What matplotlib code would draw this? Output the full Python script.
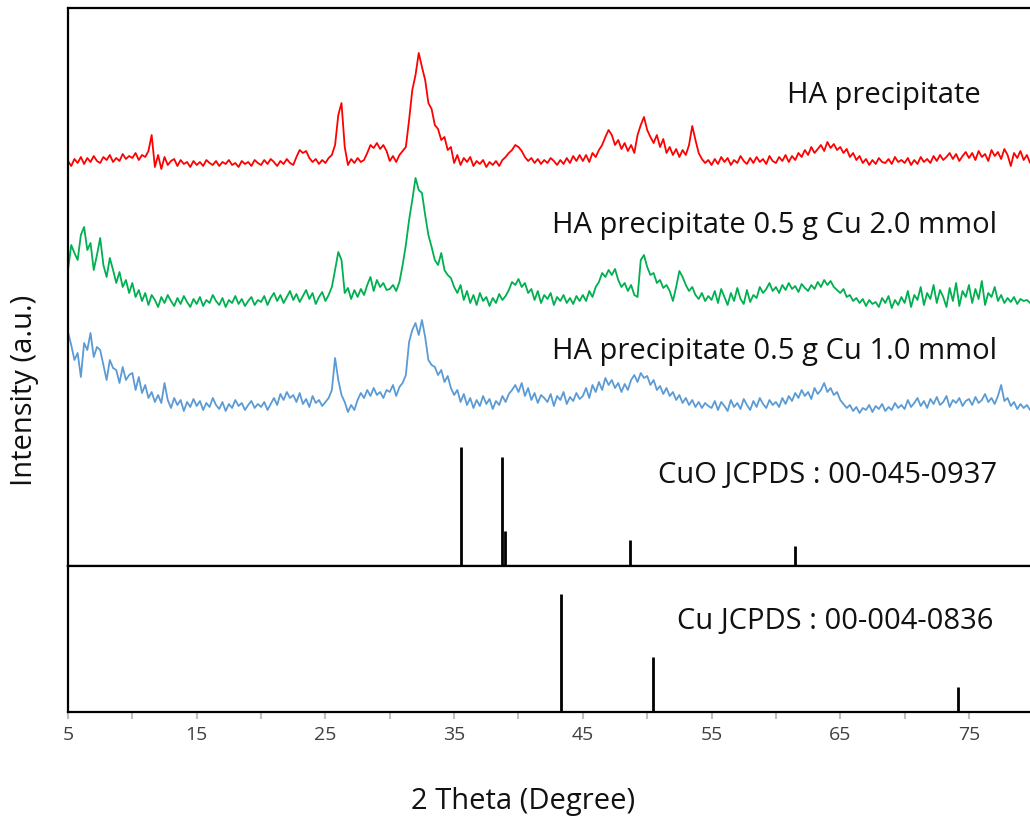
import numpy as np
import matplotlib
matplotlib.use("Agg")
import matplotlib.pyplot as plt

plt.rcParams['font.family'] = ['Open Sans', 'DejaVu Sans']

# 2-theta grid of the measured patterns (degrees)
two_theta = np.arange(5.0, 80.0001, 0.25)

# HA precipitate (a.u.)
ha_plain = [
    14, 9, 16, 12, 18, 11, 17, 13, 19, 14, 12, 18, 15, 20, 13, 17, 14, 21, 16, 19,
    17, 22, 15, 20, 18, 24, 40, 8, 20, 6, 18, 10, 14, 16, 9, 15, 11, 13, 8, 14,
    10, 13, 9, 15, 12, 10, 14, 9, 13, 11, 15, 10, 12, 8, 14, 11, 13, 9, 15, 12,
    10, 15, 11, 16, 13, 9, 14, 11, 16, 12, 10, 18, 25, 22, 24, 17, 13, 16, 11, 15,
    12, 17, 20, 30, 60, 72, 28, 10, 16, 12, 17, 13, 15, 22, 30, 27, 32, 26, 30, 24,
    14, 19, 13, 20, 24, 28, 55, 85, 100, 122, 108, 95, 72, 66, 50, 46, 35, 38, 25, 28,
    12, 20, 10, 17, 13, 18, 9, 14, 11, 15, 8, 13, 10, 14, 9, 15, 18, 22, 25, 30,
    28, 24, 18, 14, 17, 12, 16, 11, 15, 12, 17, 14, 10, 15, 11, 17, 12, 19, 14, 20,
    14, 20, 13, 22, 18, 25, 30, 38, 45, 40, 30, 35, 26, 32, 24, 30, 22, 40, 50, 58,
    45, 38, 32, 40, 28, 36, 22, 28, 20, 26, 18, 25, 20, 30, 49, 35, 22, 16, 12, 15,
    10, 16, 11, 18, 13, 17, 10, 15, 12, 19, 14, 11, 17, 12, 18, 13, 16, 11, 19, 14,
    12, 18, 14, 20, 13, 19, 15, 22, 18, 25, 20, 28, 22, 26, 30, 24, 33, 27, 31, 25,
    28, 22, 26, 18, 22, 15, 19, 12, 16, 10, 15, 11, 17, 13, 12, 16, 11, 18, 13, 15,
    12, 17, 10, 15, 11, 18, 13, 16, 12, 19, 14, 20, 15, 18, 22, 16, 21, 14, 19, 23,
    17, 22, 15, 24, 18, 21, 14, 25, 19, 23, 16, 26, 20, 9, 22, 17, 24, 15, 20, 12,
    14,
]

# HA precipitate 0.5 g Cu 2.0 mmol (a.u.)
ha_cu_20 = [
    45, 70, 62, 55, 80, 88, 65, 72, 45, 60, 77, 50, 38, 57, 45, 32, 43, 28, 35, 22,
    32, 18, 25, 14, 22, 10, 20, 15, 8, 18, 12, 20, 14, 9, 17, 11, 19, 13, 8, 16,
    11, 18, 9, 15, 12, 20, 14, 10, 17, 8, 15, 12, 19, 11, 16, 9, 14, 18, 10, 15,
    13, 19, 10, 17, 22, 14, 20, 12, 18, 24, 15, 21, 13, 19, 25, 16, 22, 11, 18, 23,
    14, 20, 28, 45, 63, 55, 22, 27, 16, 25, 18, 26, 20, 30, 38, 24, 35, 28, 32, 25,
    26, 30, 24, 33, 50, 70, 95, 115, 137, 125, 122, 100, 80, 68, 55, 50, 62, 45, 40, 37,
    28, 22, 30, 15, 24, 12, 20, 10, 22, 14, 18, 9, 17, 12, 21, 15, 19, 25, 33, 30,
    36, 28, 32, 22, 26, 15, 24, 12, 20, 16, 22, 10, 18, 14, 20, 12, 17, 11, 19, 14,
    20, 14, 24, 18, 28, 33, 42, 38, 45, 40, 46, 35, 28, 32, 24, 30, 20, 18, 55, 60,
    48, 40, 42, 32, 35, 27, 30, 24, 14, 28, 44, 38, 30, 24, 28, 20, 16, 22, 14, 19,
    15, 24, 12, 26, 18, 10, 22, 14, 27, 16, 11, 25, 13, 20, 17, 28, 22, 26, 32, 24,
    28, 22, 30, 25, 32, 26, 29, 23, 31, 27, 24, 30, 26, 33, 28, 35, 30, 34, 28, 25,
    22, 26, 18, 20, 14, 17, 12, 16, 9, 15, 11, 13, 8, 17, 12, 19, 7, 15, 10, 18,
    12, 24, 8, 20, 15, 28, 10, 22, 16, 30, 12, 25, 18, 8, 27, 14, 32, 9, 24, 18,
    30, 12, 26, 16, 34, 10, 22, 18, 28, 14, 20, 12, 17, 13, 18, 11, 16, 14, 15, 12,
    14,
]

# HA precipitate 0.5 g Cu 1.0 mmol (a.u.)
ha_cu_10 = [
    88, 75, 60, 67, 43, 77, 70, 87, 63, 73, 70, 55, 40, 60, 52, 50, 37, 53, 40, 45,
    47, 30, 43, 27, 35, 22, 28, 18, 25, 17, 37, 20, 12, 22, 15, 20, 9, 18, 13, 21,
    14, 19, 10, 17, 13, 22, 15, 11, 18, 9, 16, 12, 20, 14, 17, 10, 15, 19, 12, 16,
    13, 18, 10, 16, 22, 15, 26, 20, 28, 22, 25, 18, 27, 16, 21, 13, 24, 17, 20, 14,
    18, 22, 30, 62, 40, 25, 18, 8, 15, 10, 20, 27, 22, 30, 24, 32, 25, 28, 22, 30,
    28, 35, 24, 33, 37, 45, 78, 90, 97, 85, 100, 83, 60, 55, 53, 45, 50, 38, 44, 32,
    25, 30, 18, 26, 15, 22, 12, 20, 14, 24, 16, 21, 11, 19, 15, 24, 18, 26, 30, 35,
    28, 37, 24, 32, 20, 27, 17, 25, 22, 18, 26, 14, 24, 20, 28, 16, 23, 19, 27, 21,
    24, 32, 22, 35, 28, 38, 30, 42, 35, 40, 32, 37, 28, 36, 30, 40, 45, 38, 47, 42,
    44, 35, 40, 30, 34, 26, 32, 24, 28, 20, 25, 17, 22, 15, 20, 13, 18, 12, 17, 14,
    12, 19, 10, 18, 14, 9, 20, 13, 17, 11, 21, 15, 10, 19, 13, 22, 16, 12, 20, 15,
    18, 13, 22, 16, 24, 19, 27, 22, 30, 24, 28, 21, 32, 26, 30, 37, 28, 32, 25, 28,
    20, 16, 12, 15, 9, 13, 7, 12, 10, 15, 8, 14, 11, 16, 9, 13, 10, 17, 12, 15,
    11, 20, 13, 17, 22, 14, 19, 12, 21, 16, 23, 15, 18, 24, 13, 20, 17, 22, 14, 19,
    21, 15, 23, 17, 20, 26, 18, 22, 16, 24, 35, 19, 22, 14, 18, 11, 16, 12, 15, 10,
    13,
]

# Reference stick patterns (relative intensity, %)
cuo_pos = [35.5, 38.7, 38.95, 48.7, 61.5]
cuo_int = [100, 92, 29, 22, 17]
cu_pos = [43.3, 50.45, 74.15]
cu_int = [100, 47, 21]

labels = [
    "HA precipitate",
    "HA precipitate 0.5 g Cu 2.0 mmol",
    "HA precipitate 0.5 g Cu 1.0 mmol",
    "CuO JCPDS : 00-045-0937",
    "Cu JCPDS : 00-004-0836",
]

W, H = 1030, 823
fig = plt.figure(figsize=(W / 100, H / 100), dpi=100)

left_px, right_px = 68, 1030
x_min = 5.0
px_per_deg = 12.871
x_max = x_min + (right_px - left_px) / px_per_deg

top_ax = fig.add_axes([left_px / W, 1 - 566 / H, (right_px - left_px) / W, 558 / H])
bot_ax = fig.add_axes([left_px / W, 1 - 712 / H, (right_px - left_px) / W, 146 / H])

# Stacked sample patterns with vertical offsets
stack = [
    (ha_plain, "#FF0000", 391),
    (ha_cu_20, "#00B050", 251),
    (ha_cu_10, "#5B9BD5", 146),
]
for series, color, offset in stack:
    top_ax.plot(two_theta, np.asarray(series) + offset, color=color, lw=1.3)

# CuO reference sticks
top_ax.vlines(cuo_pos, 0, np.asarray(cuo_int) * 1.19, color="black", lw=2.0)
top_ax.set_ylim(0, 558)

# Cu reference sticks
bot_ax.vlines(cu_pos, 0, cu_int, color="black", lw=2.0)
bot_ax.set_ylim(0, 123.7)

for ax in (top_ax, bot_ax):
    ax.set_xlim(x_min, x_max)
    ax.set_yticks([])
    ax.spines["right"].set_visible(False)
    for s in ("left", "top", "bottom"):
        ax.spines[s].set_linewidth(1.6)
        ax.spines[s].set_color("black")

top_ax.tick_params(axis="x", bottom=False, labelbottom=False)

ticks = np.arange(5, 80, 5)
bot_ax.set_xticks(ticks)
bot_ax.set_xticklabels([str(t) if t % 10 == 5 else "" for t in ticks])
bot_ax.tick_params(axis="x", direction="out", length=5, width=1.5,
                   color="#bfbfbf", labelcolor="#404040", labelsize=14, pad=5)

txt_kw = dict(ha="right", va="center", fontsize=21, color="#111111")
top_ax.text(75.93, 471, labels[0], **txt_kw)
top_ax.text(77.18, 340, labels[1], **txt_kw)
top_ax.text(77.18, 214, labels[2], **txt_kw)
top_ax.text(77.18, 91, labels[3], **txt_kw)
bot_ax.text(76.87, 76.3, labels[4], **txt_kw)

fig.text(523 / W, 1 - 802 / H, "2 Theta (Degree)", ha="center", va="center",
         fontsize=21, color="#111111")
fig.text(25 / W, 1 - 390 / H, "Intensity (a.u.)", ha="center", va="center",
         rotation=90, fontsize=21, color="#111111")

fig.savefig("out.png", dpi=100)
